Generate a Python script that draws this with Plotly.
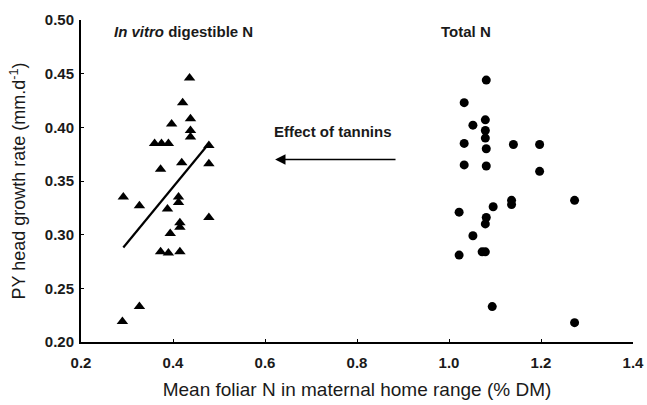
import plotly.graph_objects as go

# In vitro digestible N (triangles)
tri_x = [0.436, 0.421, 0.438, 0.397, 0.438, 0.438, 0.360, 0.375, 0.390, 0.478,
         0.419, 0.478, 0.373, 0.292, 0.327, 0.412, 0.412, 0.388, 0.478, 0.415,
         0.415, 0.394, 0.373, 0.390, 0.415, 0.327, 0.290]
tri_y = [0.446, 0.423, 0.408, 0.403, 0.397, 0.391, 0.385, 0.385, 0.385, 0.383,
         0.367, 0.366, 0.361, 0.335, 0.327, 0.335, 0.330, 0.324, 0.316, 0.311,
         0.307, 0.301, 0.284, 0.283, 0.284, 0.233, 0.219]

# Total N (circles)
cir_x = [1.081, 1.033, 1.052, 1.079, 1.079, 1.079, 1.081, 1.033, 1.140, 1.197,
         1.033, 1.081, 1.197, 1.136, 1.136, 1.096, 1.022, 1.081, 1.079, 1.052,
         1.022, 1.072, 1.079, 1.273, 1.094, 1.273]
cir_y = [0.444, 0.423, 0.402, 0.407, 0.397, 0.390, 0.380, 0.385, 0.384, 0.384,
         0.365, 0.364, 0.359, 0.332, 0.328, 0.326, 0.321, 0.316, 0.310, 0.299,
         0.281, 0.284, 0.284, 0.332, 0.233, 0.218]

# Regression line for digestible N
fit_x = [0.292, 0.478]
fit_y = [0.288, 0.385]

x_ticks = [0.2, 0.4, 0.6, 0.8, 1.0, 1.2, 1.4]
x_tick_labels = ["0.2", "0.4", "0.6", "0.8", "1.0", "1.2", "1.4"]
y_ticks = [0.20, 0.25, 0.30, 0.35, 0.40, 0.45, 0.50]
y_tick_labels = ["0.20", "0.25", "0.30", "0.35", "0.40", "0.45", "0.50"]

FONT = "Liberation Sans, Arial, sans-serif"
INK = "#1a1a1a"

fig = go.Figure()
fig.add_trace(go.Scatter(x=tri_x, y=tri_y, mode="markers",
                         marker=dict(symbol="triangle-up", size=10, color="black"),
                         showlegend=False))
fig.add_trace(go.Scatter(x=cir_x, y=cir_y, mode="markers",
                         marker=dict(symbol="circle", size=9, color="black"),
                         showlegend=False))
fig.add_trace(go.Scatter(x=fit_x, y=fit_y, mode="lines",
                         line=dict(color="black", width=2.2),
                         showlegend=False))

fig.add_annotation(x=0.268, y=0.489, xref="x", yref="y", xanchor="left",
                   text="<i>In vitro</i> digestible N", showarrow=False,
                   font=dict(family=FONT, size=15, color=INK, weight="bold"))
fig.add_annotation(x=0.978, y=0.489, xref="x", yref="y", xanchor="left",
                   text="Total N", showarrow=False,
                   font=dict(family=FONT, size=15, color=INK, weight="bold"))
fig.add_annotation(x=0.748, y=0.396, xref="x", yref="y",
                   text="Effect of tannins", showarrow=False,
                   font=dict(family=FONT, size=15, color=INK, weight="bold"))
fig.add_annotation(x=0.622, y=0.370, ax=0.887, ay=0.370,
                   xref="x", yref="y", axref="x", ayref="y",
                   text="", showarrow=True, arrowhead=2, arrowsize=1.3,
                   arrowwidth=1.6, arrowcolor="black")

fig.update_layout(
    width=647, height=405,
    margin=dict(l=81, r=14, t=20, b=63),
    paper_bgcolor="white", plot_bgcolor="white",
    font=dict(family=FONT, color=INK),
)
fig.update_xaxes(range=[0.2, 1.4], tickvals=x_ticks, ticktext=x_tick_labels,
                 automargin=False,
                 showgrid=False, zeroline=False, showline=True, linecolor="black",
                 linewidth=2, ticks="inside", ticklen=3, tickcolor="black",
                 ticklabelstandoff=6,
                 tickfont=dict(family=FONT, size=15, color=INK, weight="bold"),
                 title=dict(text="Mean foliar N in maternal home range (% DM)",
                            font=dict(family=FONT, size=19, color=INK), standoff=13))
fig.update_yaxes(range=[0.2, 0.5], tickvals=y_ticks, ticktext=y_tick_labels,
                 automargin=False,
                 showgrid=False, zeroline=False, showline=True, linecolor="black",
                 linewidth=2, ticks="inside", ticklen=3, tickcolor="black",
                 ticklabelstandoff=2,
                 tickfont=dict(family=FONT, size=15, color=INK, weight="bold"),
                 title=dict(text="PY head growth rate (mm.d<sup>-1</sup>)",
                            font=dict(family=FONT, size=18, color=INK), standoff=14))

fig.write_html("out.html",
               config={"displayModeBar": False},
               post_script="document.body.style.margin='0';document.body.style.overflow='hidden';")
